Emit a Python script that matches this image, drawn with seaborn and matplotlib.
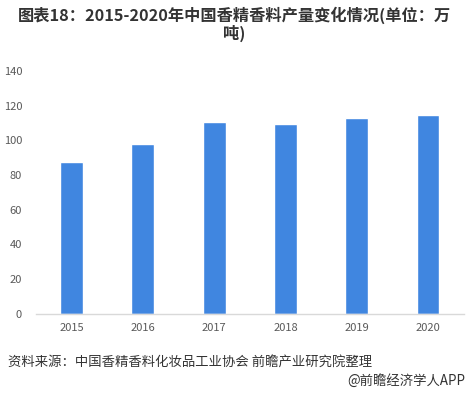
import matplotlib
matplotlib.use("Agg")
import matplotlib.pyplot as plt
import seaborn as sns
import pandas as pd

# ============================
# DATA
# ============================
years = ["2015", "2016", "2017", "2018", "2019", "2020"]
output = [87.5, 98.0, 110.5, 109.5, 112.8, 114.5]

title = "图表18：2015-2020年中国香精香料产量变化情况(单位：万\n吨)"
source = "资料来源：中国香精香料化妆品工业协会 前瞻产业研究院整理"
credit = "@前瞻经济学人APP"

df = pd.DataFrame({"year": years, "value": output})

# ============================
# STYLE
# ============================
sns.set_style("white")
plt.rcParams["font.family"] = ["Noto Sans CJK SC", "DejaVu Sans"]

fig = plt.figure(figsize=(4.68, 3.95), dpi=100)
ax = fig.add_axes([36 / 468, (395 - 313.5) / 395, (463.6 - 36) / 468, (313.5 - 71) / 395])

sns.barplot(data=df, x="year", y="value", color="#4086E0", width=0.32,
            saturation=1, ax=ax)

ax.set_ylim(0, 140)
ax.set_yticks(range(0, 141, 20))
ax.set_xlim(-0.5, 5.5)
ax.set_xlabel("")
ax.set_ylabel("")
ax.tick_params(axis="both", length=0, labelsize=8, colors="#595959")
ax.tick_params(axis="y", pad=10)
ax.tick_params(axis="x", pad=7)

for side in ["top", "right", "left"]:
    ax.spines[side].set_visible(False)
ax.spines["bottom"].set_color("#d9d9d9")
ax.spines["bottom"].set_linewidth(1)

# ============================
# TEXT
# ============================
fig.text(0.5, 1 - 7 / 395, title, ha="center", va="top", fontsize=11.7,
         fontweight="bold", color="#333333", linespacing=1.0)
fig.text(8 / 468, 1 - 363 / 395, source, ha="left", va="center",
         fontsize=9.6, color="#333333")
fig.text(465 / 468, 1 - 381 / 395, credit, ha="right", va="center",
         fontsize=9.6, color="#333333")

fig.savefig("out.png", dpi=100)
